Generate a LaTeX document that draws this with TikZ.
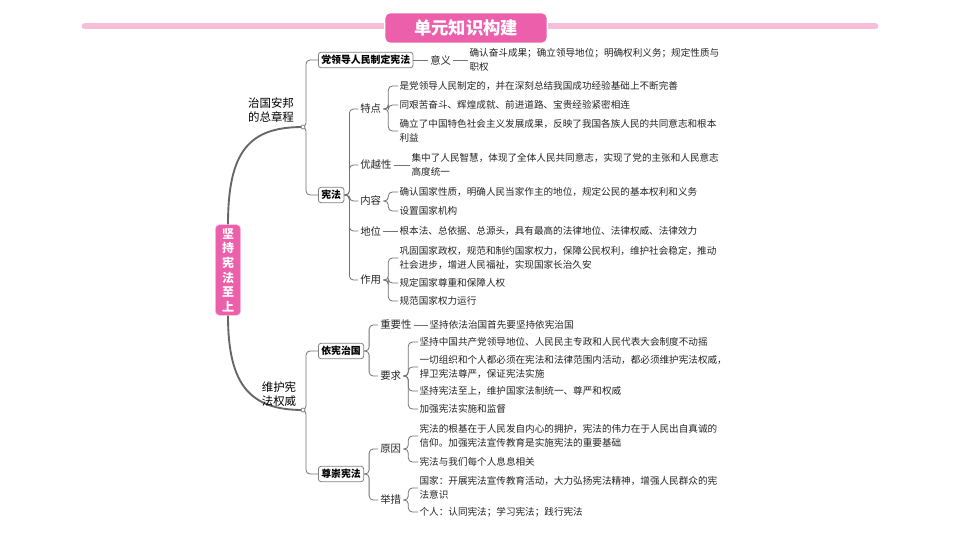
\documentclass[tikz,border=0pt]{standalone}
\usepackage{fontspec}
\setmainfont{Noto Sans CJK SC}
\begin{document}
\begin{tikzpicture}[x=0.75pt,y=-0.75pt,
  conn/.style={draw=black!55,line width=0.6pt,rounded corners=3pt},
  leaf/.style={anchor=west,inner sep=1pt,align=left,font=\fontsize{7.2}{10.2}\selectfont,text=black!85},
  mid/.style={anchor=west,inner sep=1.5pt,font=\fontsize{7.8}{10}\selectfont,text=black!85},
  box/.style={anchor=west,draw=black!50,rounded corners=2pt,line width=0.6pt,inner sep=2.2pt,font=\fontsize{7.4}{9}\selectfont\bfseries},
  lab/.style={align=left,font=\fontsize{8.6}{10.5}\selectfont,inner sep=0pt},
  dot/.style={circle,draw=black!55,fill=white,inner sep=0pt,minimum size=3pt,line width=0.5pt}]
\useasboundingbox (0,0) rectangle (960,540);
\fill[white] (0,0) rectangle (960,540);
% title
\draw[line width=5pt,color={rgb,255:red,247;green,190;blue,218},line cap=round] (85,26) -- (875,26);
\node[fill={rgb,255:red,236;green,95;blue,170},draw=white,line width=1pt,rounded corners=4pt,minimum width=122pt,minimum height=23pt,text=white,font=\fontsize{13}{14}\selectfont\bfseries,inner sep=0pt] (title) at (466,28) {单元知识构建};
% root
\node[fill={rgb,255:red,236;green,95;blue,170},draw={rgb,255:red,250;green,200;blue,225},rounded corners=3pt,minimum width=19pt,minimum height=68pt,text=white,align=center,font=\fontsize{9}{11}\selectfont\bfseries,inner sep=1pt] (root) at (228,270) {坚\\持\\宪\\法\\至\\上};
\coordinate (b1) at (303,127);
\coordinate (b2) at (303,410);
\draw[line width=1.4pt,draw=black!60] (root.north) .. controls (228,150) and (250,127) .. (b1);
\draw[line width=1.4pt,draw=black!60] (root.south) .. controls (228,385) and (250,410) .. (b2);
\node[lab] (l1) at (271,110) {治国安邦\\的总章程};
\node[lab] (l2) at (279,394) {维护宪\\法权威};
% level 1 boxes
\node[box] (dang) at (318,60) {党领导人民制定宪法};
\node[box] (xf) at (318,195) {宪法};
\node[box] (yx) at (318,351) {依宪治国};
\node[box] (zc) at (318,474) {尊崇宪法};
\draw[conn] (b1) -- ++(3,0) |- (dang.west);
\draw[conn] (b1) -- ++(3,0) |- (xf.west);
\draw[conn] (b2) -- ++(3,0) |- (yx.west);
\draw[conn] (b2) -- ++(3,0) |- (zc.west);
\node[dot] at (b1) {};
\node[dot] at (b2) {};
% 意义
\node[mid] (yy) at (428,60) {意义};
\node[leaf] (yyt) at (468,60) {确认奋斗成果；确立领导地位；明确权利义务；规定性质与\\职权};
\draw[conn] (dang.east) -- (yy.west);
\draw[conn] (yy.east) -- (yyt.west);
% 宪法 children
\node[mid] (td) at (358,109) {特点};
\node[mid] (yyx) at (358,165) {优越性};
\node[mid] (nr) at (358,201) {内容};
\node[mid] (dw) at (358,231) {地位};
\node[mid] (zy) at (358,280) {作用};
\foreach \c in {td,yyx,nr,dw,zy} \draw[conn] (xf.east) -- ++(5,0) |- (\c.west);
% 特点
\node[leaf] (td1) at (398,86) {是党领导人民制定的，并在深刻总结我国成功经验基础上不断完善};
\node[leaf] (td2) at (398,105) {同艰苦奋斗、辉煌成就、前进道路、宝贵经验紧密相连};
\node[leaf] (td3) at (398,131) {确立了中国特色社会主义发展成果，反映了我国各族人民的共同意志和根本\\利益};
\foreach \c in {td1,td2,td3} \draw[conn] (td.east) -- ++(5,0) |- (\c.west);
\node[leaf] (yyx1) at (410,165) {集中了人民智慧，体现了全体人民共同意志，实现了党的主张和人民意志\\高度统一};
\draw[conn] (yyx.east) -- (yyx1.west);
\node[leaf] (nr1) at (398,192) {确认国家性质，明确人民当家作主的地位，规定公民的基本权利和义务};
\node[leaf] (nr2) at (398,211) {设置国家机构};
\foreach \c in {nr1,nr2} \draw[conn] (nr.east) -- ++(5,0) |- (\c.west);
\node[leaf] (dw1) at (398,231) {根本法、总依据、总源头，具有最高的法律地位、法律权威、法律效力};
\draw[conn] (dw.east) -- (dw1.west);
\node[leaf] (zy1) at (398,258) {巩固国家政权，规范和制约国家权力，保障公民权利，维护社会稳定，推动\\社会进步，增进人民福祉，实现国家长治久安};
\node[leaf] (zy2) at (398,283) {规定国家尊重和保障人权};
\node[leaf] (zy3) at (398,301) {规范国家权力运行};
\foreach \c in {zy1,zy2,zy3} \draw[conn] (zy.east) -- ++(5,0) |- (\c.west);
% 依宪治国
\node[mid] (zyx) at (378,325) {重要性};
\node[mid] (yq) at (378,376) {要求};
\foreach \c in {zyx,yq} \draw[conn] (yx.east) -- ++(5,0) |- (\c.west);
\node[leaf] (zyx1) at (428,325) {坚持依法治国首先要坚持依宪治国};
\draw[conn] (zyx.east) -- (zyx1.west);
\node[leaf] (yq1) at (418,342) {坚持中国共产党领导地位、人民民主专政和人民代表大会制度不动摇};
\node[leaf] (yq2) at (418,367) {一切组织和个人都必须在宪法和法律范围内活动，都必须维护宪法权威，\\捍卫宪法尊严，保证宪法实施};
\node[leaf] (yq3) at (418,391) {坚持宪法至上，维护国家法制统一、尊严和权威};
\node[leaf] (yq4) at (418,409) {加强宪法实施和监督};
\foreach \c in {yq1,yq2,yq3,yq4} \draw[conn] (yq.east) -- ++(5,0) |- (\c.west);
% 尊崇宪法
\node[mid] (yy2) at (378,449) {原因};
\node[mid] (jc) at (378,500) {举措};
\foreach \c in {yy2,jc} \draw[conn] (zc.east) -- ++(5,0) |- (\c.west);
\node[leaf] (yy21) at (418,436) {宪法的根基在于人民发自内心的拥护，宪法的伟力在于人民出自真诚的\\信仰。加强宪法宣传教育是实施宪法的重要基础};
\node[leaf] (yy22) at (418,462) {宪法与我们每个人息息相关};
\foreach \c in {yy21,yy22} \draw[conn] (yy2.east) -- ++(5,0) |- (\c.west);
\node[leaf] (jc1) at (418,488) {国家：开展宪法宣传教育活动，大力弘扬宪法精神，增强人民群众的宪\\法意识};
\node[leaf] (jc2) at (418,512) {个人：认同宪法；学习宪法；践行宪法};
\foreach \c in {jc1,jc2} \draw[conn] (jc.east) -- ++(5,0) |- (\c.west);
\end{tikzpicture}
\end{document}
